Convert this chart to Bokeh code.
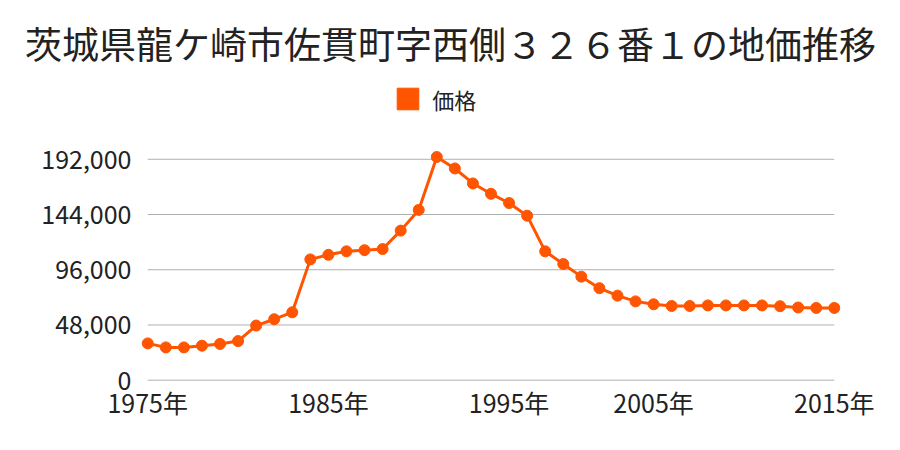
from bokeh.plotting import figure
from bokeh.layouts import column
from bokeh.models import Range1d, FixedTicker, Label, Legend, LegendItem, NumeralTickFormatter
from bokeh.embed import file_html
from bokeh.resources import INLINE

TITLE = "茨城県龍ケ崎市佐貫町字西側３２６番１の地価推移"
SERIES = "価格"
years = list(range(1975, 1996)) + [1996, 1997, 1998, 2000, 2001, 2002, 2004] + list(range(2005, 2016))
prices = [32000, 28500, 28500, 30000, 31500, 34000, 47500, 53000, 59000, 105000,
          109000, 112000, 113000, 114000, 130000, 148000, 194000, 184000, 171000, 162000,
          154000, 143000, 112000, 101000, 90000, 80000, 73500, 68500, 66000, 64500,
          64500, 65000, 65000, 65000, 65000, 64300, 63200, 62800, 62800]
label_years = [1975, 1985, 1995, 2005, 2015]
y_ticks = [0, 48000, 96000, 144000, 192000]

FONT = "Noto Sans CJK JP"
ORANGE = "#ff5500"
GRID = "#b0b0b0"
TEXT = "#222222"

xs = list(range(len(years)))
nan = float("nan")

# ---- header: title + legend ----
TOP_H = 128
head = figure(width=900, height=TOP_H, output_backend="svg", toolbar_location=None,
              x_range=Range1d(0, 900), y_range=Range1d(0, TOP_H),
              min_border=0, x_axis_type=None, y_axis_type=None)
head.frame_align = False
head.outline_line_color = None
head.xgrid.visible = False
head.ygrid.visible = False
head.add_layout(Label(x=450, y=TOP_H - 42, text=TITLE, text_font=FONT, text_font_size="37px",
                      text_color=TEXT, text_align="center", text_baseline="middle"))
leg_r = head.quad(left=[nan], right=[nan], top=[nan], bottom=[nan],
                  fill_color=ORANGE, line_color=ORANGE)
legend = Legend(items=[LegendItem(label=SERIES, renderers=[leg_r])],
                location=(394.3, TOP_H - 114.7), orientation="horizontal",
                glyph_width=27, glyph_height=27, label_standoff=11,
                label_text_font=FONT, label_text_font_size="22px", label_text_color=TEXT,
                padding=0, margin=0, border_line_color=None, background_fill_alpha=0)
head.add_layout(legend, "center")

# ---- chart ----
CH = 450 - TOP_H
p = figure(width=900, height=CH, output_backend="svg", toolbar_location=None,
           x_range=Range1d(-0.4, len(years) - 1 + 0.4),
           y_range=Range1d(-2000, -2000 + (382 - TOP_H) * 869.1),
           min_border_left=140, min_border_right=59, min_border_top=0, min_border_bottom=68)
p.frame_align = False
p.outline_line_color = None
p.xgrid.visible = False
p.ygrid.visible = False

p.segment(x0=[xs[0]] * len(y_ticks), x1=[xs[-1]] * len(y_ticks), y0=y_ticks, y1=y_ticks,
          line_color=GRID, line_width=1)
p.line(xs, prices, line_color=ORANGE, line_width=3)
p.scatter(xs, prices, size=11, fill_color=ORANGE, line_color=ORANGE)

tick_pos = [years.index(y) for y in label_years]
p.xaxis.ticker = FixedTicker(ticks=tick_pos)
p.xaxis.major_label_overrides = {i: f"{years[i]}年" for i in tick_pos}
p.yaxis.ticker = FixedTicker(ticks=y_ticks)
p.yaxis.formatter = NumeralTickFormatter(format="0,0")
for ax in (p.xaxis[0], p.yaxis[0]):
    ax.axis_line_color = None
    ax.major_tick_line_color = None
    ax.minor_tick_line_color = None
    ax.major_label_text_font = FONT
    ax.major_label_text_font_size = "25px"
    ax.major_label_text_color = TEXT
p.xaxis.major_label_standoff = -5
p.yaxis.major_label_standoff = 3

layout = column(head, p, spacing=0)
open("out.html", "w").write(file_html(layout, INLINE))
